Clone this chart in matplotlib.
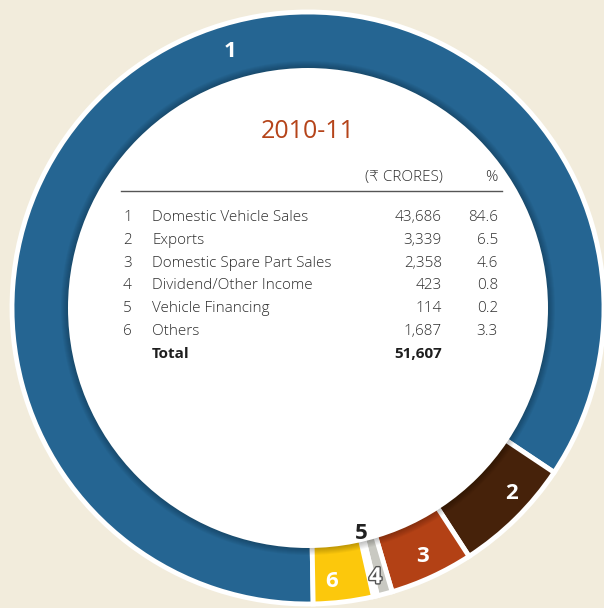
import matplotlib
matplotlib.use("Agg")
import matplotlib.pyplot as plt
import matplotlib.patheffects as pe
from matplotlib.patches import Circle, Wedge
import numpy as np

# ---- data ----
numbers = ["1", "2", "3", "4", "5", "6"]
categories = ["Domestic Vehicle Sales", "Exports", "Domestic Spare Part Sales",
              "Dividend/Other Income", "Vehicle Financing", "Others"]
values = [43686, 3339, 2358, 423, 114, 1687]
value_labels = ["43,686", "3,339", "2,358", "423", "114", "1,687"]
percents = ["84.6", "6.5", "4.6", "0.8", "0.2", "3.3"]
total_label = "51,607"
title = "2010-11"

colors = ["#256592", "#46220a", "#b34115", "#c9c9c2", "#f6f6f4", "#fcc80c"]
BG = "#f2ecdc"

W, H = 604, 608
fig = plt.figure(figsize=(W / 100, H / 100), dpi=100, facecolor=BG)
ax = fig.add_axes([0, 0, 1, 1])
ax.set_facecolor(BG)

def Y(y):
    return H - y

cx, cy = 308, Y(308)
R, r = 296, 240
start = -89

wedges, _ = ax.pie(values, colors=colors, startangle=start, counterclock=False,
                   center=(cx, cy), radius=R,
                   wedgeprops=dict(width=R - r + 5, edgecolor="white", linewidth=3.5))

# inner shadow on ring
for k in range(1, 8):
    ax.add_patch(Wedge((cx, cy), r + k, 0, 360, width=k + 1, facecolor="black",
                       alpha=0.035, edgecolor="none", zorder=2))
ax.add_patch(Circle((cx, cy), r, facecolor="white", edgecolor="none", zorder=3))

# segment labels
total = sum(values)
angles = []
acc = start
for v in values:
    span = 360 * v / total
    angles.append(acc - span / 2)
    acc -= span

def place(txt, ang, rad, **kw):
    a = np.deg2rad(ang)
    return ax.text(cx + rad * np.cos(a), cy + rad * np.sin(a), txt,
                   ha="center", va="center", fontsize=16, fontweight="bold",
                   family=["Open Sans", "DejaVu Sans"], zorder=5, **kw)

place(numbers[0], 107, 268, color="white")
place(numbers[1], angles[1] + 3, 275, color="white")
place(numbers[2], angles[2], 274, color="white")
t4 = place(numbers[3], angles[3] - 1, 278, color="white")
t4.set_path_effects([pe.Stroke(linewidth=2, foreground="#555555"), pe.Normal()])
place(numbers[4], angles[4], 232, color="#222222")
place(numbers[5], angles[5] - 2, 274, color="white")

# table
fam = ["Open Sans", "DejaVu Sans"]
tc = "#2e2e2e"
ax.text(cx, Y(131), title, ha="center", va="center", fontsize=18,
        color="#b5441a", family=fam, zorder=6)
ax.text(443, Y(177.5), "(₹ CRORES)", ha="right", va="center", fontsize=11,
        color=tc, family=fam, fontweight="light", zorder=6)
ax.text(498, Y(177.5), "%", ha="right", va="center", fontsize=11,
        color=tc, family=fam, fontweight="light", zorder=6)
ax.plot([121, 502], [Y(191), Y(191)], color="#555555", lw=1, zorder=6)

row0, dy = 217.5, 22.8
for i in range(len(categories)):
    y = Y(row0 + i * dy)
    ax.text(123, y, numbers[i], ha="left", va="center", fontsize=11, color=tc,
            family=fam, fontweight="light", zorder=6)
    ax.text(152, y, categories[i], ha="left", va="center", fontsize=11, color=tc,
            family=fam, fontweight="light", zorder=6)
    ax.text(442, y, value_labels[i], ha="right", va="center", fontsize=11, color=tc,
            family=fam, fontweight="light", zorder=6)
    ax.text(498, y, percents[i], ha="right", va="center", fontsize=11, color=tc,
            family=fam, fontweight="light", zorder=6)
y = Y(row0 + len(categories) * dy)
ax.text(152, y, "Total", ha="left", va="center", fontsize=11, color="#1e1e1e",
        fontweight="bold", family=fam, zorder=6)
ax.text(442, y, total_label, ha="right", va="center", fontsize=11, color="#1e1e1e",
        fontweight="bold", family=fam, zorder=6)

ax.set_xlim(0, W)
ax.set_ylim(0, H)
ax.set_aspect("auto")
ax.axis("off")
fig.savefig("out.png", dpi=100, facecolor=BG)
